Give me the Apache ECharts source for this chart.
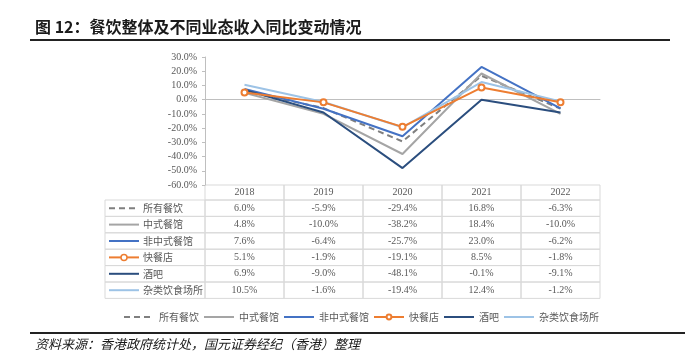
<!DOCTYPE html>
<html>
<head>
<meta charset="utf-8">
<script src="https://cdn.jsdelivr.net/npm/echarts@6/dist/echarts.min.js"></script>
<style>
  html, body { margin: 0; padding: 0; background: #fff; }
  #chart { width: 685px; height: 353px; }
</style>
</head>
<body>
<div id="chart"></div>
<script>
// 数据
const years = ["2018", "2019", "2020", "2021", "2022"];
const seriesNames = ["所有餐饮", "中式餐馆", "非中式餐馆", "快餐店", "酒吧", "杂类饮食场所"];
const allDining = [6.0, -5.9, -29.4, 16.8, -6.3];
const chineseRest = [4.8, -10.0, -38.2, 18.4, -10.0];
const nonChineseRest = [7.6, -6.4, -25.7, 23.0, -6.2];
const fastFood = [5.1, -1.9, -19.1, 8.5, -1.8];
const barsData = [6.9, -9.0, -48.1, -0.1, -9.1];
const miscVenues = [10.5, -1.6, -19.4, 12.4, -1.2];
const yMin = -60, yMax = 30, yStep = 10;

const allValues = [allDining, chineseRest, nonChineseRest, fastFood, barsData, miscVenues];
const colors = ["#7f7f7f", "#a5a5a5", "#4472c4", "#ed7d31", "#2b4e7e", "#9dc3e6"];
const dashed = [true, false, false, false, false, false];
const withMarker = [false, false, false, true, false, false];

const cjk = '"Noto Sans CJK SC", sans-serif';
const serif = '"Liberation Serif", "Times New Roman", serif';
const textGray = "#595959";
const border = "#d9d9d9";

const chart = echarts.init(document.getElementById("chart"));

const series = seriesNames.map((name, i) => ({
  name,
  type: "line",
  data: allValues[i],
  symbol: withMarker[i] ? "emptyCircle" : "none",
  symbolSize: 6,
  lineStyle: { color: colors[i], width: 2, type: dashed[i] ? [6, 4] : "solid" },
  itemStyle: { color: colors[i], borderWidth: 1.5 },
  z: withMarker[i] ? 5 : 2,
}));

chart.setOption({
  animation: false,
  grid: { left: 205, right: 85, top: 57, height: 128 },
  xAxis: {
    type: "category",
    data: years,
    boundaryGap: true,
    axisLine: { lineStyle: { color: "#bfbfbf", width: 1 } },
    axisTick: { show: false },
    axisLabel: { show: false },
  },
  yAxis: {
    type: "value",
    min: yMin,
    max: yMax,
    interval: yStep,
    axisLine: { show: true, lineStyle: { color: "#bfbfbf" } },
    axisTick: { show: true, length: 3, lineStyle: { color: "#bfbfbf" } },
    splitLine: { show: false },
    axisLabel: {
      formatter: (v) => v.toFixed(1) + "%",
      color: textGray,
      fontFamily: serif,
      fontSize: 10,
      margin: 8,
    },
  },
  legend: {
    left: 118,
    top: 307,
    itemWidth: 30,
    itemHeight: 6,
    itemGap: 4,
    textStyle: { color: textGray, fontFamily: cjk, fontSize: 10 },
    data: seriesNames.map((name, i) => withMarker[i]
      ? { name }
      : { name, itemStyle: { opacity: 0 } }),
  },
  series,
});

// 表格 + 标题
const band = chart.convertToPixel({ xAxisIndex: 0 }, years[1]) - chart.convertToPixel({ xAxisIndex: 0 }, years[0]);
const headerTop = 185, rowH = 16.4, labelLeft = 105;
const graphics = [];

// 表头
years.forEach((y, j) => {
  const cx = chart.convertToPixel({ xAxisIndex: 0 }, y);
  graphics.push({
    type: "rect", silent: true,
    shape: { x: cx - band / 2, y: headerTop, width: band, height: 200 - headerTop },
    style: { fill: "none", stroke: border, lineWidth: 1 },
  });
  graphics.push({
    type: "text", silent: true, x: cx, y: (headerTop + 200) / 2,
    style: { text: y, fill: textGray, font: "10px " + serif, align: "center", verticalAlign: "middle" },
  });
});

// 数据行
seriesNames.forEach((name, i) => {
  const top = 200 + i * rowH;
  const mid = top + rowH / 2;
  const firstLeft = chart.convertToPixel({ xAxisIndex: 0 }, years[0]) - band / 2;
  graphics.push({
    type: "rect", silent: true,
    shape: { x: labelLeft, y: top, width: firstLeft - labelLeft, height: rowH },
    style: { fill: "none", stroke: border, lineWidth: 1 },
  });
  graphics.push({
    type: "line", silent: true,
    shape: { x1: labelLeft + 4, y1: mid, x2: labelLeft + 34, y2: mid },
    style: { stroke: colors[i], lineWidth: 2, lineDash: dashed[i] ? [6, 4] : null },
  });
  if (withMarker[i]) {
    graphics.push({
      type: "circle", silent: true,
      shape: { cx: labelLeft + 19, cy: mid, r: 3 },
      style: { fill: "#fff", stroke: colors[i], lineWidth: 1.5 },
    });
  }
  graphics.push({
    type: "text", silent: true, x: labelLeft + 38, y: mid,
    style: { text: name, fill: textGray, font: "10px " + cjk, verticalAlign: "middle" },
  });
  allValues[i].forEach((v, j) => {
    const cx = chart.convertToPixel({ xAxisIndex: 0 }, years[j]);
    graphics.push({
      type: "rect", silent: true,
      shape: { x: cx - band / 2, y: top, width: band, height: rowH },
      style: { fill: "none", stroke: border, lineWidth: 1 },
    });
    graphics.push({
      type: "text", silent: true, x: cx, y: mid,
      style: { text: v.toFixed(1) + "%", fill: textGray, font: "10px " + serif, align: "center", verticalAlign: "middle" },
    });
  });
});

// 标题与来源
graphics.push({
  type: "text", silent: true, x: 35, y: 27,
  style: { text: "图 12：餐饮整体及不同业态收入同比变动情况", fill: "#1a1a1a", font: "bold 16px " + cjk, verticalAlign: "middle" },
});
graphics.push({
  type: "line", silent: true,
  shape: { x1: 30, y1: 40, x2: 670, y2: 40 },
  style: { stroke: "#222", lineWidth: 2 },
});
graphics.push({
  type: "line", silent: true,
  shape: { x1: 30, y1: 333, x2: 685, y2: 333 },
  style: { stroke: "#222", lineWidth: 2 },
});
graphics.push({
  type: "text", silent: true, x: 35, y: 344,
  style: { text: "资料来源：香港政府统计处，国元证券经纪（香港）整理", fill: "#1a1a1a", font: "italic 13px " + cjk, verticalAlign: "middle" },
});

chart.setOption({ graphic: graphics });
</script>
</body>
</html>
